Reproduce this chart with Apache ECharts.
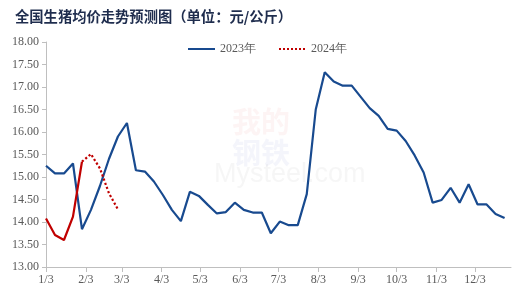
<!DOCTYPE html>
<html><head><meta charset="utf-8">
<script src="https://cdn.jsdelivr.net/npm/echarts@6/dist/echarts.min.js"></script>
<style>html,body{margin:0;padding:0;background:#fff}#c{width:522px;height:295px}</style>
</head><body><div id="c"></div>
<script>
const titleText = '全国生猪均价走势预测图（单位：元/公斤）';
const weekDates = ['2023-01-03','2023-01-10','2023-01-17','2023-01-24','2023-01-31',
 '2023-02-07','2023-02-14','2023-02-21','2023-02-28',
 '2023-03-07','2023-03-14','2023-03-21','2023-03-28',
 '2023-04-04','2023-04-11','2023-04-18','2023-04-25',
 '2023-05-02','2023-05-09','2023-05-16','2023-05-23','2023-05-30',
 '2023-06-06','2023-06-13','2023-06-20','2023-06-27',
 '2023-07-04','2023-07-11','2023-07-18','2023-07-25',
 '2023-08-01','2023-08-08','2023-08-15','2023-08-22','2023-08-29',
 '2023-09-05','2023-09-12','2023-09-19','2023-09-26',
 '2023-10-03','2023-10-10','2023-10-17','2023-10-24','2023-10-31',
 '2023-11-07','2023-11-14','2023-11-21','2023-11-28',
 '2023-12-05','2023-12-12','2023-12-19','2023-12-26'];
const price2023 = [15.25,15.08,15.08,15.30,13.84,14.27,14.80,15.40,15.90,16.20,
 15.15,15.12,14.90,14.60,14.27,14.02,14.67,14.58,14.38,14.19,
 14.22,14.43,14.27,14.21,14.21,13.75,14.01,13.93,13.93,14.62,
 16.50,17.33,17.12,17.03,17.03,16.78,16.53,16.36,16.07,16.03,
 15.80,15.48,15.10,14.43,14.49,14.76,14.43,14.84,14.39,14.39,
 14.18,14.09];
const price2024Actual = [14.08,13.71,13.60,14.12,15.34];
const price2024Forecast = [15.34,15.51,15.19,14.64,14.28];
const forecastStartIndex = 4;
const tickDates = ['2023-01-03','2023-02-03','2023-03-03','2023-04-03','2023-05-03','2023-06-03',
 '2023-07-03','2023-08-03','2023-09-03','2023-10-03','2023-11-03','2023-12-03'];
const tickLabels = ['1/3','2/3','3/3','4/3','5/3','6/3','7/3','8/3','9/3','10/3','11/3','12/3'];
const axisMin = '2023-01-03', axisMax = '2023-12-31';
const yMin = 13, yMax = 18, yStep = 0.5;

// x = days since axisMin (converted from the date strings)
function day(s){const p=s.split('-').map(Number);return Math.round((Date.UTC(p[0],p[1]-1,p[2])-Date.UTC(2023,0,3))/86400000);}
const s2023 = weekDates.map((d,i)=>[day(d),price2023[i]]);
const sAct = price2024Actual.map((v,i)=>[day(weekDates[i]),v]);
const sFc = price2024Forecast.map((v,i)=>[day(weekDates[forecastStartIndex+i]),v]);
const ticks = tickDates.map(day);
const labelOf = {}; ticks.forEach((t,i)=>labelOf[t]=tickLabels[i]);

const serif = 'Liberation Serif';
const chart = echarts.init(document.getElementById('c'));
chart.setOption({
  animation:false,
  title:{text:titleText,left:10,top:4,textStyle:{fontFamily:'Noto Sans CJK SC',fontSize:14.3,fontWeight:'bold',color:'#1f2d4e'}},
  legend:{left:182,top:38,itemWidth:27,itemHeight:10,itemGap:22,data:['2023年','2024年'],
    itemStyle:{opacity:0},
    textStyle:{fontFamily:serif,fontSize:12,color:'#595959'}},
  graphic:[
    {type:'text',left:232,top:107,silent:true,z:-1,style:{text:'我的',font:'bold 29px "Noto Sans CJK SC"',fill:'rgba(225,110,110,0.08)'}},
    {type:'text',left:232,top:138,silent:true,z:-1,style:{text:'钢铁',font:'bold 29px "Noto Sans CJK SC"',fill:'rgba(110,125,200,0.08)'}},
    {type:'text',left:214,top:161,silent:true,z:-1,style:{text:'Mysteel.com',font:'27px "Liberation Sans"',fill:'rgba(180,180,180,0.12)'}}
  ],
  grid:{left:46,right:11,top:42,bottom:28},
  xAxis:{type:'value',min:day(axisMin),max:day(axisMax),
    axisLine:{lineStyle:{color:'#bfbfbf'}},
    axisTick:{show:true,length:5,customValues:ticks,lineStyle:{color:'#bfbfbf'}},
    axisLabel:{customValues:ticks,fontFamily:serif,fontSize:12,color:'#595959',margin:7,
      formatter:function(v){return labelOf[v]||'';}},
    splitLine:{show:false}},
  yAxis:{type:'value',min:yMin,max:yMax,interval:yStep,
    axisLine:{show:true,lineStyle:{color:'#bfbfbf'}},
    axisTick:{show:true,length:4,lineStyle:{color:'#bfbfbf'}},
    axisLabel:{fontFamily:serif,fontSize:12,color:'#595959',margin:7,formatter:v=>v.toFixed(2)},
    splitLine:{show:false}},
  series:[
    {name:'2023年',type:'line',data:s2023,showSymbol:false,symbol:'none',lineStyle:{color:'#184a8f',width:2.2},itemStyle:{color:'#184a8f'}},
    {name:'2024年实际',type:'line',data:sAct,showSymbol:false,symbol:'none',lineStyle:{color:'#c00000',width:2.2},itemStyle:{color:'#c00000'}},
    {name:'2024年',type:'line',data:sFc,showSymbol:false,symbol:'none',lineStyle:{color:'#c00000',width:2.2,type:'dotted'},itemStyle:{color:'#c00000'}}
  ]
});
</script></body></html>
